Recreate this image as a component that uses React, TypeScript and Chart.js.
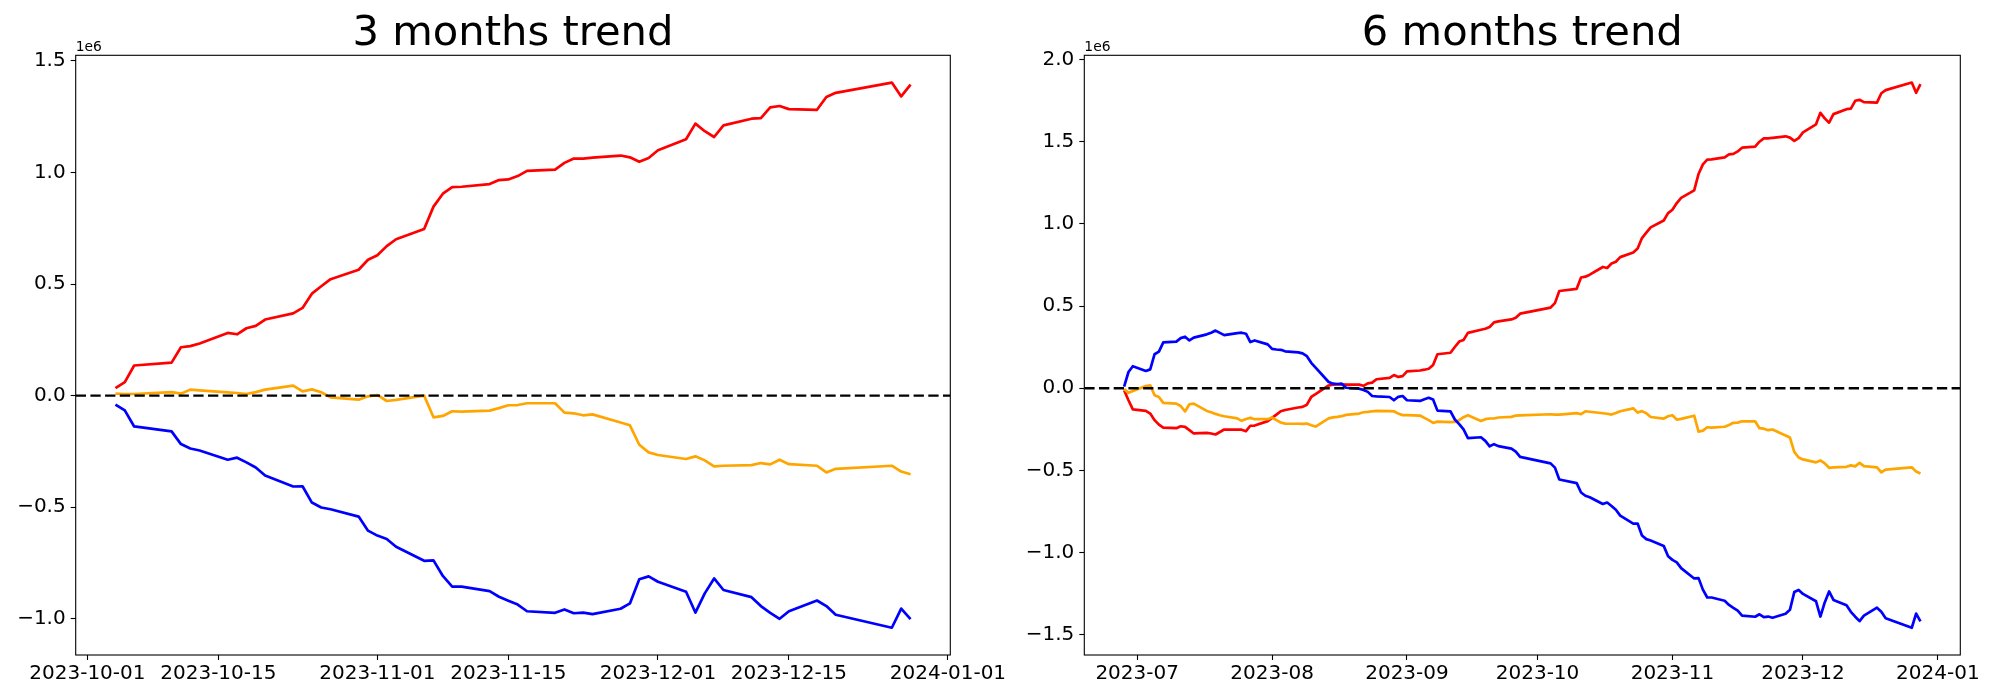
import React, { useEffect, useRef } from "react";
import { Chart, registerables } from "chart.js";

Chart.register(...registerables);

const FONT = "'DejaVu Sans', 'Liberation Sans', sans-serif";

// ---------- 3 months data (values in millions) ----------
const dates3m = [
  "2023-10-04", "2023-10-05", "2023-10-06", "2023-10-10", "2023-10-11", "2023-10-12", "2023-10-13",
  "2023-10-16", "2023-10-17", "2023-10-18", "2023-10-19", "2023-10-20", "2023-10-23", "2023-10-24",
  "2023-10-25", "2023-10-26", "2023-10-27", "2023-10-30", "2023-10-31", "2023-11-01", "2023-11-02",
  "2023-11-03", "2023-11-06", "2023-11-07", "2023-11-08", "2023-11-09", "2023-11-10", "2023-11-13",
  "2023-11-14", "2023-11-15", "2023-11-16", "2023-11-17", "2023-11-20", "2023-11-21", "2023-11-22",
  "2023-11-23", "2023-11-24", "2023-11-27", "2023-11-28", "2023-11-29", "2023-11-30", "2023-12-01",
  "2023-12-04", "2023-12-05", "2023-12-06", "2023-12-07", "2023-12-08", "2023-12-11", "2023-12-12",
  "2023-12-13", "2023-12-14", "2023-12-15", "2023-12-18", "2023-12-19", "2023-12-20", "2023-12-26",
  "2023-12-27", "2023-12-28",
];
const red3m = [
  0.034, 0.061, 0.135, 0.148, 0.217, 0.222, 0.234, 0.281, 0.275, 0.302,
  0.3125, 0.341, 0.369, 0.393, 0.457, 0.49, 0.522, 0.564, 0.609, 0.629,
  0.67, 0.701, 0.747, 0.847, 0.905, 0.934, 0.936, 0.948, 0.966, 0.969,
  0.984, 1.007, 1.013, 1.043, 1.0625, 1.0625, 1.067, 1.076, 1.068, 1.048,
  1.065, 1.1, 1.149, 1.219, 1.185, 1.159, 1.211, 1.241, 1.244, 1.292,
  1.298, 1.284, 1.281, 1.338, 1.357, 1.403, 1.341, 1.394,
];
const blue3m = [
  -0.04, -0.066, -0.138, -0.16, -0.217, -0.237, -0.246, -0.287, -0.278, -0.299,
  -0.322, -0.358, -0.407, -0.406, -0.479, -0.501, -0.509, -0.542, -0.605, -0.627,
  -0.642, -0.677, -0.74, -0.738, -0.808, -0.856, -0.856, -0.876, -0.901, -0.919,
  -0.936, -0.966, -0.973, -0.958, -0.975, -0.972, -0.979, -0.955, -0.931, -0.823,
  -0.81, -0.834, -0.879, -0.972, -0.886, -0.819, -0.871, -0.903, -0.943, -0.973,
  -1.0, -0.966, -0.918, -0.943, -0.982, -1.04, -0.954, -1.001,
];
const orange3m = [
  0.009, 0.0075, 0.0075, 0.016, 0.009, 0.027, 0.024, 0.015, 0.012, 0.0075,
  0.016, 0.027, 0.045, 0.019, 0.028, 0.015, -0.0075, -0.018, -0.003, 0.003,
  -0.024, -0.019, 0.0, -0.097, -0.091, -0.07, -0.072, -0.067, -0.056, -0.043,
  -0.042, -0.034, -0.034, -0.076, -0.079, -0.088, -0.084, -0.12, -0.133, -0.22,
  -0.254, -0.266, -0.284, -0.272, -0.29, -0.317, -0.314, -0.311, -0.302, -0.308,
  -0.287, -0.307, -0.314, -0.344, -0.328, -0.314, -0.34, -0.352,
];

// ---------- 6 months data (values in millions) ----------
const dates6m = [
  "2023-06-28", "2023-06-29", "2023-06-30",
  "2023-07-03", "2023-07-04", "2023-07-05", "2023-07-06", "2023-07-07",
  "2023-07-10", "2023-07-11", "2023-07-12", "2023-07-13", "2023-07-14",
  "2023-07-17", "2023-07-18", "2023-07-19", "2023-07-20", "2023-07-21",
  "2023-07-24", "2023-07-25", "2023-07-26", "2023-07-27", "2023-07-28",
  "2023-07-31", "2023-08-01", "2023-08-02", "2023-08-03", "2023-08-04",
  "2023-08-07", "2023-08-08", "2023-08-09", "2023-08-10", "2023-08-11",
  "2023-08-14", "2023-08-15", "2023-08-16", "2023-08-17", "2023-08-18",
  "2023-08-21", "2023-08-22", "2023-08-23", "2023-08-24", "2023-08-25",
  "2023-08-28", "2023-08-29", "2023-08-30", "2023-08-31", "2023-09-01",
  "2023-09-04", "2023-09-05", "2023-09-06", "2023-09-07", "2023-09-08",
  "2023-09-11", "2023-09-12", "2023-09-13", "2023-09-14", "2023-09-15",
  "2023-09-18", "2023-09-19", "2023-09-20", "2023-09-21", "2023-09-22",
  "2023-09-25", "2023-09-26", "2023-09-27",
  "2023-10-04", "2023-10-05", "2023-10-06", "2023-10-10", "2023-10-11", "2023-10-12", "2023-10-13",
  "2023-10-16", "2023-10-17", "2023-10-18", "2023-10-19", "2023-10-20", "2023-10-23", "2023-10-24",
  "2023-10-25", "2023-10-26", "2023-10-27", "2023-10-30", "2023-10-31", "2023-11-01", "2023-11-02",
  "2023-11-03", "2023-11-06", "2023-11-07", "2023-11-08", "2023-11-09", "2023-11-10", "2023-11-13",
  "2023-11-14", "2023-11-15", "2023-11-16", "2023-11-17", "2023-11-20", "2023-11-21", "2023-11-22",
  "2023-11-23", "2023-11-24", "2023-11-27", "2023-11-28", "2023-11-29", "2023-11-30", "2023-12-01",
  "2023-12-04", "2023-12-05", "2023-12-06", "2023-12-07", "2023-12-08", "2023-12-11", "2023-12-12",
  "2023-12-13", "2023-12-14", "2023-12-15", "2023-12-18", "2023-12-19", "2023-12-20", "2023-12-26",
  "2023-12-27", "2023-12-28",
];
const red6m = [
  -0.012, -0.073, -0.128,
  -0.138, -0.154, -0.194, -0.221, -0.239,
  -0.243, -0.231, -0.235, -0.255, -0.275,
  -0.271, -0.275, -0.281, -0.266, -0.251,
  -0.252, -0.252, -0.261, -0.228, -0.227,
  -0.2, -0.18, -0.16, -0.14, -0.132,
  -0.117, -0.113, -0.1, -0.053, -0.035,
  0.017, 0.022, 0.024, 0.024, 0.022,
  0.022, 0.015, 0.03, 0.034, 0.055,
  0.063, 0.08, 0.069, 0.074, 0.103,
  0.108, 0.113, 0.119, 0.142, 0.207,
  0.216, 0.251, 0.284, 0.294, 0.337,
  0.356, 0.362, 0.373, 0.401, 0.407,
  0.419, 0.429, 0.454,
  0.491, 0.518, 0.592, 0.605, 0.674, 0.679, 0.691, 0.738, 0.732, 0.759,
  0.77, 0.798, 0.826, 0.85, 0.914, 0.947, 0.979, 1.021, 1.066, 1.086,
  1.127, 1.158, 1.204, 1.304, 1.362, 1.391, 1.393, 1.405, 1.423, 1.426,
  1.441, 1.464, 1.47, 1.5, 1.52, 1.52, 1.524, 1.533, 1.525, 1.505,
  1.522, 1.557, 1.606, 1.676, 1.642, 1.616, 1.668, 1.698, 1.701, 1.749,
  1.755, 1.741, 1.738, 1.795, 1.814, 1.86, 1.798, 1.851,
];
const blue6m = [
  0.01, 0.099, 0.134,
  0.105, 0.115, 0.207, 0.223, 0.279,
  0.284, 0.305, 0.314, 0.291, 0.308,
  0.328, 0.338, 0.351, 0.337, 0.323,
  0.336, 0.338, 0.332, 0.281, 0.291,
  0.267, 0.24, 0.236, 0.234, 0.225,
  0.218, 0.212, 0.195, 0.155, 0.125,
  0.038, 0.028, 0.026, 0.028, 0.003,
  -0.003, -0.01, -0.022, -0.047, -0.049,
  -0.053, -0.073, -0.052, -0.047, -0.073,
  -0.077, -0.067, -0.058, -0.068, -0.136,
  -0.14, -0.19, -0.218, -0.25, -0.303,
  -0.298, -0.32, -0.353, -0.34, -0.352,
  -0.367, -0.385, -0.417,
  -0.457, -0.483, -0.555, -0.577, -0.634, -0.654, -0.663, -0.704, -0.695, -0.716,
  -0.739, -0.775, -0.824, -0.823, -0.896, -0.918, -0.926, -0.959, -1.022, -1.044,
  -1.059, -1.094, -1.157, -1.155, -1.225, -1.273, -1.273, -1.293, -1.318, -1.336,
  -1.353, -1.383, -1.39, -1.375, -1.392, -1.389, -1.396, -1.372, -1.348, -1.24,
  -1.227, -1.251, -1.296, -1.389, -1.303, -1.236, -1.288, -1.32, -1.36, -1.39,
  -1.417, -1.383, -1.335, -1.36, -1.399, -1.457, -1.371, -1.418,
];
const orange6m = [
  -0.005, -0.028, -0.016,
  0.014, 0.018, -0.043, -0.053, -0.089,
  -0.093, -0.108, -0.141, -0.097, -0.093,
  -0.138, -0.146, -0.156, -0.164, -0.17,
  -0.183, -0.198, -0.187, -0.18, -0.188,
  -0.188, -0.178, -0.194, -0.208, -0.215,
  -0.216, -0.217, -0.215, -0.225, -0.233,
  -0.183, -0.177, -0.174, -0.17, -0.162,
  -0.154, -0.146, -0.144, -0.14, -0.138,
  -0.139, -0.14, -0.154, -0.164, -0.164,
  -0.166, -0.18, -0.194, -0.211, -0.203,
  -0.206, -0.205, -0.194, -0.176, -0.164,
  -0.199, -0.188, -0.184, -0.184, -0.178,
  -0.174, -0.166, -0.165,
  -0.158, -0.16, -0.16, -0.151, -0.158, -0.14, -0.143, -0.152, -0.155, -0.16,
  -0.151, -0.14, -0.122, -0.148, -0.139, -0.152, -0.175, -0.185, -0.17, -0.164,
  -0.191, -0.186, -0.167, -0.264, -0.258, -0.237, -0.239, -0.234, -0.223, -0.21,
  -0.209, -0.201, -0.201, -0.243, -0.246, -0.255, -0.251, -0.287, -0.3, -0.387,
  -0.421, -0.433, -0.451, -0.439, -0.457, -0.484, -0.481, -0.478, -0.469, -0.475,
  -0.454, -0.474, -0.481, -0.511, -0.495, -0.481, -0.507, -0.519,
];

// ---------- ticks ----------
const xTicks3m = ["2023-10-01", "2023-10-15", "2023-11-01", "2023-11-15", "2023-12-01", "2023-12-15", "2024-01-01"];
const xTickLabels3m = ["2023-10-01", "2023-10-15", "2023-11-01", "2023-11-15", "2023-12-01", "2023-12-15", "2024-01-01"];
const xTicks6m = ["2023-07-01", "2023-08-01", "2023-09-01", "2023-10-01", "2023-11-01", "2023-12-01", "2024-01-01"];
const xTickLabels6m = ["2023-07", "2023-08", "2023-09", "2023-10", "2023-11", "2023-12", "2024-01"];
const yTicks3m = [-1.0, -0.5, 0.0, 0.5, 1.0, 1.5];
const yTicks6m = [-1.5, -1.0, -0.5, 0.0, 0.5, 1.0, 1.5, 2.0];
const SCALE = 1e6;

const dayNum = (s: string) => {
  const [y, m, d] = s.split("-").map(Number);
  return Date.UTC(y, m - 1, d) / 86400000;
};

type Area = { left: number; right: number; top: number; bottom: number };

function TrendChart(props: {
  title: string;
  dates: string[];
  red: number[];
  orange: number[];
  blue: number[];
  xTicks: string[];
  xTickLabels: string[];
  yTicks: number[];
  width: number;
  height: number;
  area: Area;
  left: number;
}) {
  const ref = useRef<HTMLCanvasElement | null>(null);
  useEffect(() => {
    const { title, dates, red, orange, blue, xTicks, xTickLabels, yTicks, width, height, area } = props;
    const xs = dates.map(dayNum);
    const mk = (vals: number[]) => vals.map((v, i) => ({ x: xs[i], y: v * SCALE }));
    const all = [...red, ...orange, ...blue].map((v) => v * SCALE);
    const xMinD = Math.min(...xs), xMaxD = Math.max(...xs);
    const yMinD = Math.min(...all), yMaxD = Math.max(...all);
    const xm = (xMaxD - xMinD) * 0.05, ym = (yMaxD - yMinD) * 0.05;
    const xTickVals = xTicks.map(dayNum);
    const yTickVals = yTicks.map((v) => v * SCALE);

    const decor = {
      id: "decor",
      afterDatasetsDraw(chart: any) {
        const { ctx, chartArea: a, scales } = chart;
        const y0 = scales.y.getPixelForValue(0);
        ctx.save();
        ctx.beginPath();
        ctx.rect(a.left, a.top, a.right - a.left, a.bottom - a.top);
        ctx.clip();
        ctx.strokeStyle = "#000";
        ctx.lineWidth = 2.4;
        ctx.setLineDash([10.3, 4.4]);
        ctx.beginPath();
        ctx.moveTo(a.left, y0);
        ctx.lineTo(a.right, y0);
        ctx.stroke();
        ctx.restore();
      },
      afterDraw(chart: any) {
        const { ctx, chartArea: a } = chart;
        ctx.save();
        ctx.strokeStyle = "#000";
        ctx.lineWidth = 1.1;
        ctx.strokeRect(a.left, a.top, a.right - a.left, a.bottom - a.top);
        ctx.fillStyle = "#000";
        ctx.font = `41.67px ${FONT}`;
        ctx.textAlign = "center";
        ctx.textBaseline = "alphabetic";
        ctx.fillText(title, (a.left + a.right) / 2, 45);
        ctx.font = `13.9px ${FONT}`;
        ctx.textAlign = "left";
        ctx.fillText("1e6", a.left, 50.7);
        ctx.restore();
      },
    };

    const fmtY = (v: number) => (v / SCALE).toFixed(1).replace("-", "\u2212");

    const chart = new Chart(ref.current as HTMLCanvasElement, {
      type: "line",
      data: {
        datasets: [
          { data: mk(blue), borderColor: "#0000ff" },
          { data: mk(orange), borderColor: "#ffa500" },
          { data: mk(red), borderColor: "#ff0000" },
        ],
      },
      options: {
        responsive: false,
        animation: false,
        devicePixelRatio: 1,
        layout: {
          autoPadding: false,
          padding: { left: 0, top: area.top, right: width - area.right, bottom: 0 },
        },
        plugins: { legend: { display: false }, title: { display: false }, tooltip: { enabled: false } },
        elements: {
          point: { radius: 0 },
          line: { tension: 0, borderWidth: 2.7, borderJoinStyle: "round", borderCapStyle: "butt", fill: false },
        },
        scales: {
          x: {
            type: "linear",
            min: xMinD - xm,
            max: xMaxD + xm,
            afterFit: (s: any) => {
              s.height = height - area.bottom;
            },
            afterBuildTicks: (s: any) => {
              s.ticks = xTickVals.map((v) => ({ value: v }));
            },
            ticks: {
              callback: (v: any) => {
                const i = xTickVals.indexOf(Number(v));
                return i >= 0 ? xTickLabels[i] : "";
              },
              autoSkip: false,
              maxRotation: 0,
              minRotation: 0,
              color: "#000",
              font: { size: 20, family: FONT },
              padding: 1.5,
            },
            grid: { display: true, drawOnChartArea: false, drawTicks: true, tickLength: 5, tickColor: "#000", tickWidth: 1.1 },
            border: { display: false },
          },
          y: {
            type: "linear",
            min: yMinD - ym,
            max: yMaxD + ym,
            afterFit: (s: any) => {
              s.width = area.left;
            },
            afterBuildTicks: (s: any) => {
              s.ticks = yTickVals.map((v) => ({ value: v }));
            },
            ticks: {
              callback: (v: any) => fmtY(Number(v)),
              autoSkip: false,
              color: "#000",
              font: { size: 20, family: FONT },
              padding: 5,
            },
            grid: { display: true, drawOnChartArea: false, drawTicks: true, tickLength: 5, tickColor: "#000", tickWidth: 1.1 },
            border: { display: false },
          },
        },
      },
      plugins: [decor],
    } as any);
    return () => chart.destroy();
  }, []);
  return (
    <canvas
      ref={ref}
      width={props.width}
      height={props.height}
      style={{ position: "absolute", left: props.left, top: 0, width: props.width, height: props.height }}
    />
  );
}

export default function App() {
  return (
    <div style={{ position: "absolute", left: 0, top: 0, width: 2000, height: 700, background: "#fff", overflow: "hidden" }}>
      <TrendChart
        title="3 months trend"
        dates={dates3m}
        red={red3m}
        orange={orange3m}
        blue={blue3m}
        xTicks={xTicks3m}
        xTickLabels={xTickLabels3m}
        yTicks={yTicks3m}
        width={1020}
        height={700}
        area={{ left: 75.7, right: 950.3, top: 55.3, bottom: 655 }}
        left={0}
      />
      <TrendChart
        title="6 months trend"
        dates={dates6m}
        red={red6m}
        orange={orange6m}
        blue={blue6m}
        xTicks={xTicks6m}
        xTickLabels={xTickLabels6m}
        yTicks={yTicks6m}
        width={980}
        height={700}
        area={{ left: 64.3, right: 940.3, top: 55.3, bottom: 655 }}
        left={1020}
      />
    </div>
  );
}
